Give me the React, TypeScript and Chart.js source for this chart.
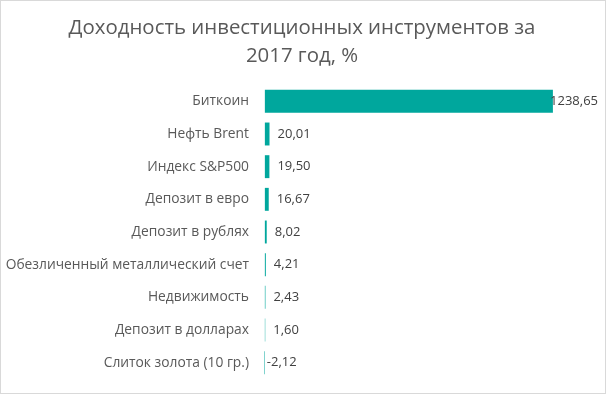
import React, { useEffect, useRef } from "react";
import { Chart, registerables } from "chart.js";

Chart.register(...registerables);

const categories = [
  "Биткоин",
  "Нефть Brent",
  "Индекс S&P500",
  "Депозит в евро",
  "Депозит в рублях",
  "Обезличенный металлический счет",
  "Недвижимость",
  "Депозит в долларах",
  "Слиток золота (10 гр.)",
];
const returns = [1238.65, 20.01, 19.5, 16.67, 8.02, 4.21, 2.43, 1.6, -2.12];
const titleLines = ["Доходность инвестиционных инструментов за", "2017 год, %"];

const FONT = "'Open Sans', 'Noto Sans', sans-serif";

const fmt = (v: number) => v.toFixed(2).replace(".", ",");

const frame = {
  id: "frame",
  beforeDraw(chart: any) {
    const { ctx, width, height } = chart;
    ctx.save();
    ctx.fillStyle = "#ffffff";
    ctx.fillRect(0, 0, width, height);
    ctx.strokeStyle = "#d9d9d9";
    ctx.lineWidth = 1;
    ctx.strokeRect(0.5, 0.5, width - 1, height - 1);
    ctx.restore();
  },
};

const titlePlugin = {
  id: "offsetTitle",
  afterDraw(chart: any) {
    const { ctx } = chart;
    ctx.save();
    ctx.font = `20.4px ${FONT}`;
    ctx.fillStyle = "#595959";
    ctx.textAlign = "center";
    ctx.textBaseline = "alphabetic";
    ctx.fillText(titleLines[0], 302, 34);
    ctx.fillText(titleLines[1], 302, 62);
    ctx.restore();
  },
};

const labels = {
  id: "valueLabels",
  afterDatasetsDraw(chart: any) {
    const { ctx, width } = chart;
    const meta = chart.getDatasetMeta(0);
    const xs = chart.scales.x;
    const zero = xs.getPixelForValue(0);
    ctx.save();
    ctx.font = `13px ${FONT}`;
    ctx.fillStyle = "#404040";
    ctx.textBaseline = "middle";
    ctx.textAlign = "left";
    meta.data.forEach((bar: any, i: number) => {
      const v = returns[i];
      const t = fmt(v);
      const w = ctx.measureText(t).width;
      let x = v >= 0 ? bar.x + 8 : zero + 2;
      if (x + w > width - 8) x = width - 8 - w;
      ctx.fillText(t, x, bar.y);
    });
    ctx.restore();
  },
};

export default function App() {
  const ref = useRef<HTMLCanvasElement>(null);
  useEffect(() => {
    document.body.style.margin = "0";
    const chart = new Chart(ref.current!, {
      type: "bar",
      data: {
        labels: categories,
        datasets: [
          {
            data: returns,
            backgroundColor: "#00a79d",
            barPercentage: 0.9,
            categoryPercentage: 0.78,
          },
        ],
      },
      options: {
        indexAxis: "y",
        animation: false,
        responsive: true,
        maintainAspectRatio: false,
        layout: { autoPadding: false, padding: { left: 0, right: 0, top: 85, bottom: 15 } },
        plugins: {
          legend: { display: false },
          tooltip: { enabled: false },
          title: { display: false },
        },
        scales: {
          x: {
            min: -8,
            max: 1467,
            ticks: { display: false },
            border: { display: false },
            grid: {
              drawTicks: false,
              color: (c: any) => (c.tick && c.tick.value === 0 ? "#d9d9d9" : "rgba(0,0,0,0)"),
            },
            afterFit: (s: any) => {
              s.height = 0;
              s.paddingLeft = 0;
              s.paddingRight = 0;
            },
          },
          y: {
            border: { display: false },
            grid: { display: false, drawTicks: false },
            ticks: {
              color: "#595959",
              font: { family: FONT, size: 13.8 },
              padding: 14,
            },
            afterFit: (s: any) => {
              s.width = 263;
              s.paddingTop = 0;
              s.paddingBottom = 0;
            },
          },
        },
      },
      plugins: [frame, labels, titlePlugin],
    });
    return () => chart.destroy();
  }, []);
  return (
    <div style={{ position: "fixed", left: 0, top: 0, width: 606, height: 394 }}>
      <canvas ref={ref} />
    </div>
  );
}
